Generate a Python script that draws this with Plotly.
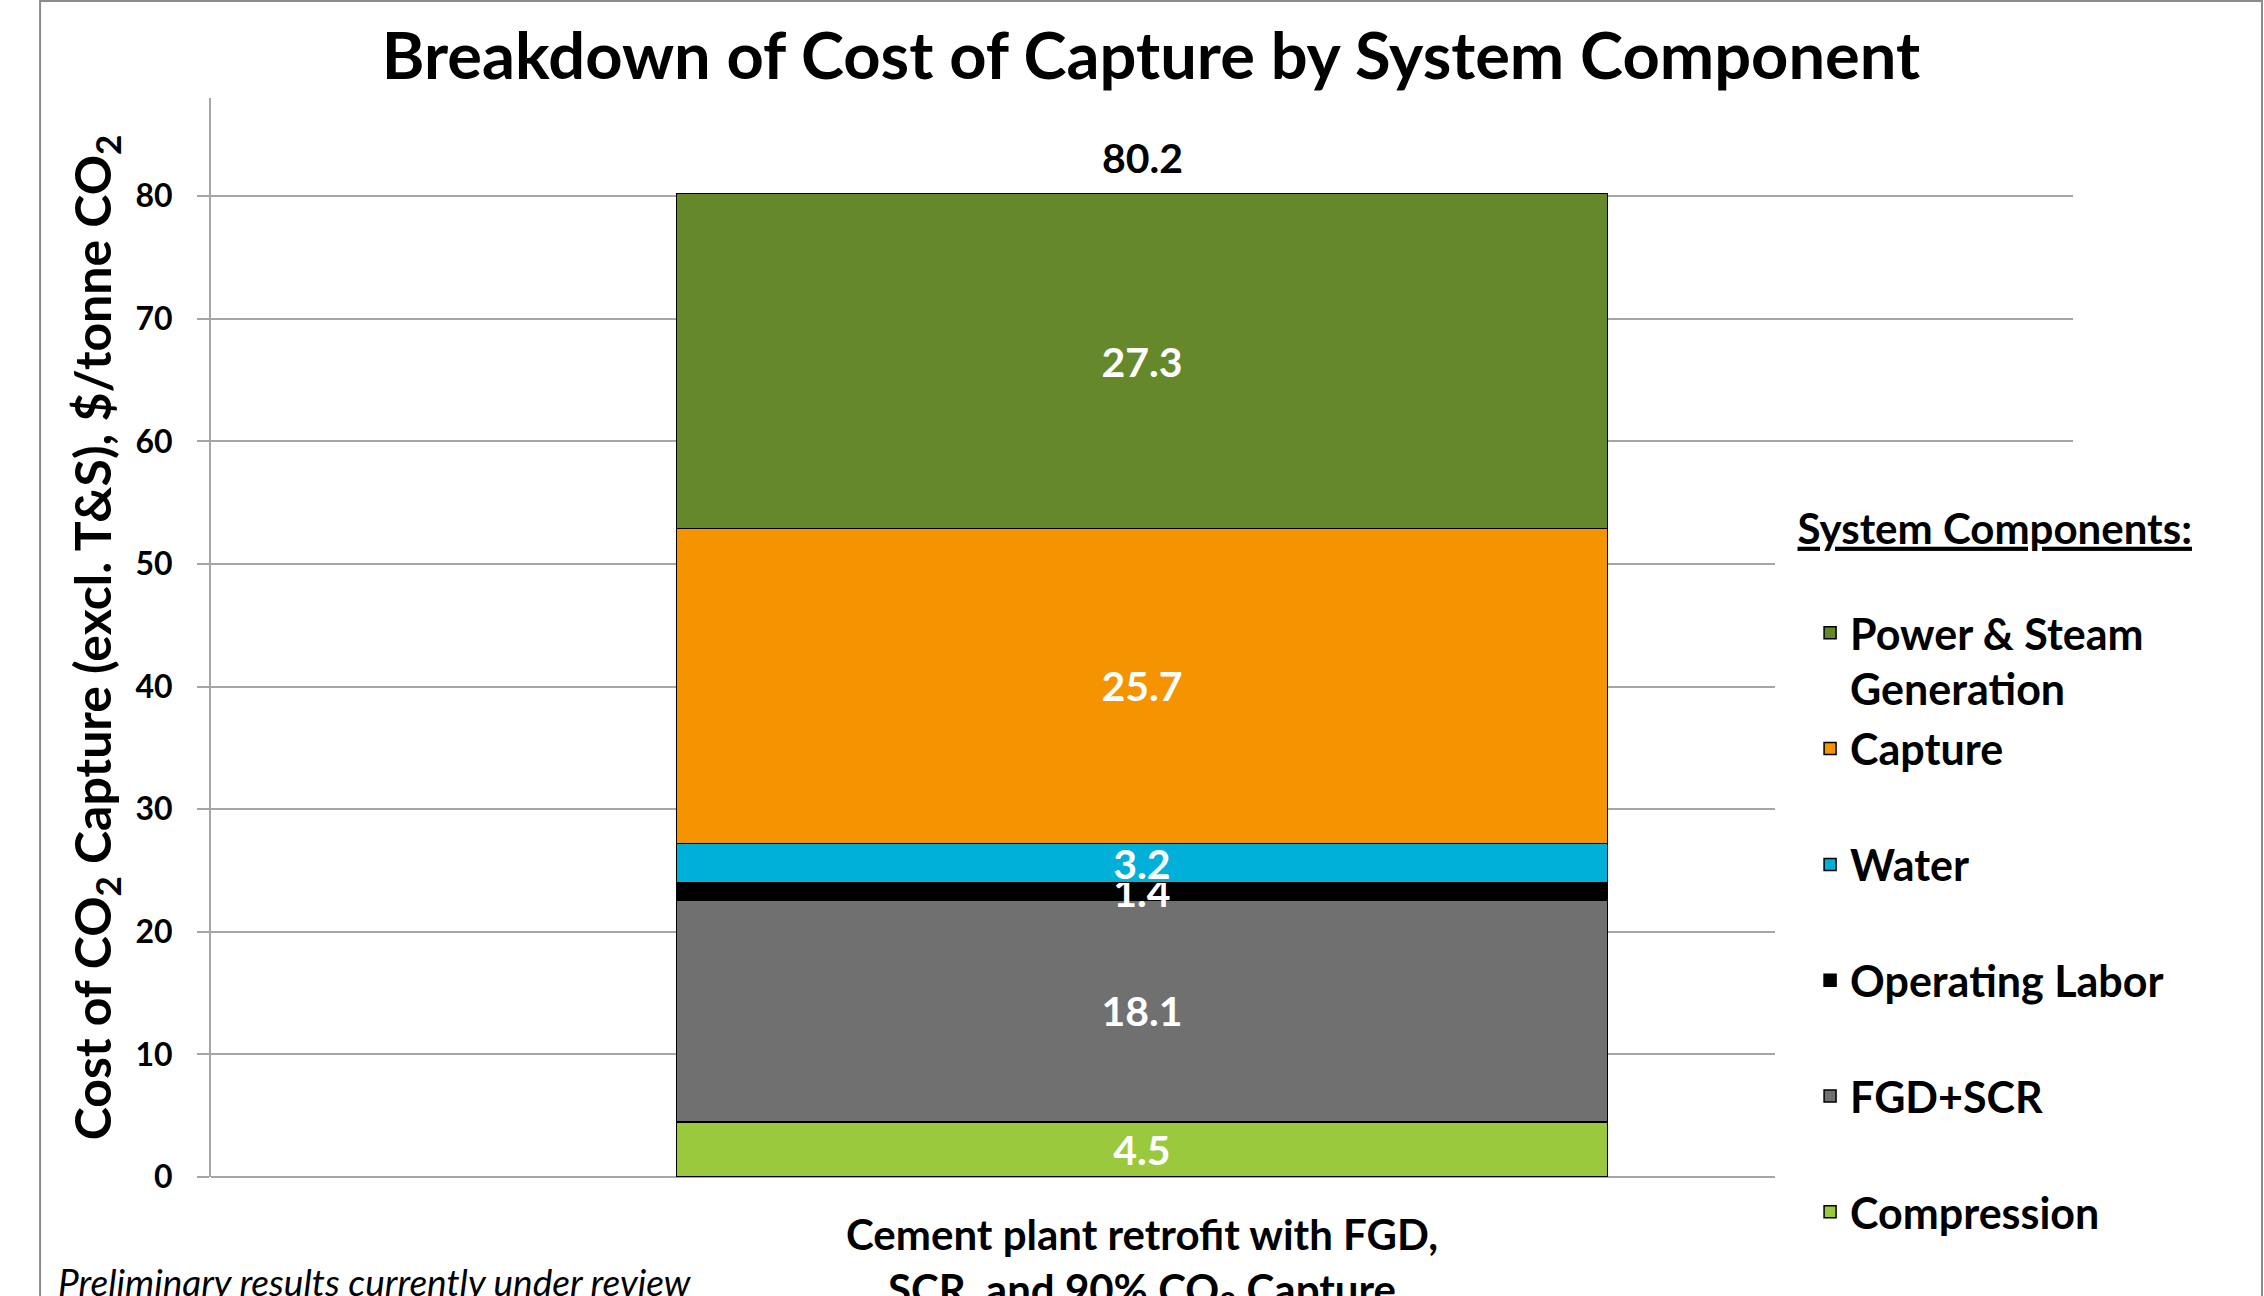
import plotly.graph_objects as go

# Cost of capture components (USD per tonne CO2), stacked bottom to top
category = ["Cement plant retrofit with FGD,<br>SCR, and 90% CO<sub>2</sub> Capture"]
components = ["Compression", "FGD+SCR", "Operating Labor", "Water", "Capture",
              "Power & Steam Generation"]
legend_labels = ["Compression", "FGD+SCR", "Operating Labor", "Water", "Capture",
                 "Power & Steam<br>Generation"]
costs = [4.5, 18.1, 1.4, 3.2, 25.7, 27.3]
colors = ["#9BC93D", "#707070", "#000000", "#00B0D8", "#F59300", "#64882A"]
y_ticks = [0, 10, 20, 30, 40, 50, 60, 70, 80]
total = round(sum(costs), 1)

FONT = "Lato, Carlito, Calibri, sans-serif"
GRID = "#A6A6A6"

fig = go.Figure()
n = len(components)
for i, (name, label, val, col) in enumerate(zip(components, legend_labels, costs, colors)):
    # entries above the last one get an empty second line so spacing is even
    entry = label if ("<br>" in label or i == 0) else label + "<br> "
    fig.add_trace(go.Bar(
        x=category, y=[val], name=entry, legendgroup=name, legendrank=n - i,
        marker=dict(color=col, line=dict(color="#000000", width=1.5)),
        text=[f"{val:.1f}"], textposition="inside", insidetextanchor="middle",
        constraintext="none", textangle=0,
        textfont=dict(family=FONT, size=41, color="white", weight="bold"),
        hoverinfo="skip",
    ))

# total above the stack
fig.add_annotation(x=category[0], y=total, text=f"{total:.1f}", showarrow=False,
                   yanchor="bottom", yshift=10,
                   font=dict(family=FONT, size=41, color="black", weight="bold"))

# chart-area frame
fig.add_shape(type="rect", xref="paper", yref="paper",
              x0=-0.0918, x1=1.1015, y0=-0.13, y1=1.0899,
              line=dict(color="#8C8C8C", width=2), fillcolor="rgba(0,0,0,0)")

# footnote
fig.add_annotation(xref="paper", yref="paper", x=-0.0835, y=-0.0973,
                   xanchor="left", yanchor="middle", showarrow=False,
                   text="<i>Preliminary results currently under review</i>",
                   font=dict(family=FONT, size=37, color="black"))

fig.update_layout(
    width=2264, height=1296,
    margin=dict(l=211, r=191, t=98, b=119, autoexpand=False),
    paper_bgcolor="white", plot_bgcolor="white",
    barmode="stack", bargap=0.5,
    font=dict(family=FONT, color="black"),
    title=dict(text="Breakdown of Cost of Capture by System Component",
               x=0.5084, xref="container", xanchor="center",
               y=1 - 56 / 1296, yref="container", yanchor="middle",
               font=dict(family=FONT, size=65, color="black", weight="bold")),
    xaxis=dict(type="category", range=[-0.5, 0.5], showgrid=False, showline=False,
               ticks="", ticklabelstandoff=30, automargin=False,
               tickfont=dict(family=FONT, size=42, color="black", weight="bold")),
    yaxis=dict(range=[0, 88], tickvals=y_ticks, showgrid=True, gridcolor=GRID,
               gridwidth=2, zeroline=True, zerolinecolor=GRID, zerolinewidth=2,
               showline=True, linecolor=GRID, linewidth=2,
               ticks="outside", ticklen=12, tickwidth=2, tickcolor=GRID,
               ticklabelstandoff=18, automargin=False,
               tickfont=dict(family=FONT, size=32, color="black", weight="bold"),
               title=dict(text="Cost of CO<sub>2</sub> Capture (excl. T&S), $/tonne CO<sub>2</sub>",
                          standoff=8,
                          font=dict(family=FONT, size=50, color="black", weight="bold"))),
    legend=dict(x=0.84, xanchor="left", y=0.6375, yanchor="top",
                bgcolor="white", borderwidth=0, valign="top",
                tracegroupgap=1, traceorder="grouped", indentation=35,
                font=dict(family=FONT, size=43, color="black", weight="bold"),
                title=dict(text="&nbsp;&nbsp;<u>System Components:</u><br> ",
                           font=dict(family=FONT, size=42, color="black", weight="bold"))),
    showlegend=True,
)

fig.write_html("out.html")
